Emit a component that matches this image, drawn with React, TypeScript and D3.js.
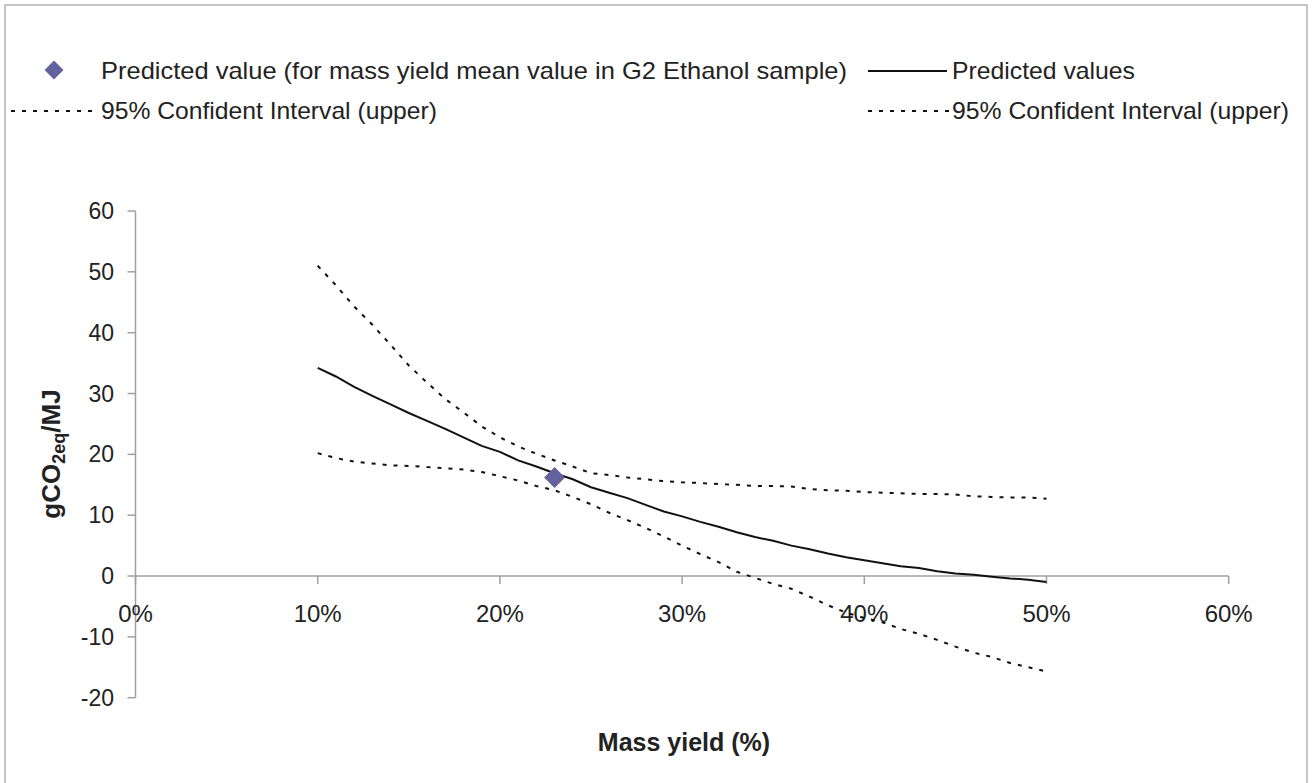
import React from "react";
import * as d3 from "d3";

// Mass yield (%) sampled along the curves
const massYield = [10, 11, 12, 13, 14, 15, 16, 17, 18, 19, 20, 21, 22, 23, 24, 25, 26, 27, 28, 29, 30, 31, 32, 33, 34, 35, 36, 37, 38, 39, 40, 41, 42, 43, 44, 45, 46, 47, 48, 49, 50];
const predictedValues = [34.2, 32.8, 31.1, 29.6, 28.2, 26.8, 25.5, 24.2, 22.8, 21.4, 20.4, 19.0, 18.0, 16.9, 15.9, 14.6, 13.7, 12.8, 11.7, 10.6, 9.8, 8.9, 8.1, 7.2, 6.4, 5.8, 5.0, 4.4, 3.7, 3.1, 2.6, 2.1, 1.6, 1.3, 0.8, 0.4, 0.2, -0.1, -0.4, -0.6, -1.0];
const upperCI = [51.0, 47.8, 44.3, 41.3, 38.0, 34.6, 31.8, 29.1, 26.9, 24.6, 22.8, 21.3, 20.1, 19.0, 18.0, 16.9, 16.6, 16.2, 15.9, 15.6, 15.4, 15.3, 15.1, 15.0, 14.8, 14.8, 14.7, 14.3, 14.1, 14.0, 13.8, 13.7, 13.6, 13.5, 13.5, 13.4, 13.1, 13.0, 12.9, 12.9, 12.7];
const lowerCI = [20.2, 19.4, 18.8, 18.5, 18.2, 18.1, 17.9, 17.7, 17.5, 17.1, 16.4, 15.7, 14.8, 14.1, 13.0, 11.8, 10.4, 9.2, 7.9, 6.5, 5.0, 3.6, 2.3, 0.7, -0.3, -1.3, -2.1, -3.4, -4.8, -6.0, -6.9, -7.6, -8.7, -9.5, -10.5, -11.6, -12.6, -13.3, -14.3, -15.0, -15.7];

// The single predicted point (mean mass yield in G2 Ethanol sample)
const pointX = [23];
const pointY = [16.2];

const xTicks = [0, 10, 20, 30, 40, 50, 60];
const yTicks = [-20, -10, 0, 10, 20, 30, 40, 50, 60];

const legendLabels = [
  "Predicted value (for mass yield mean value in G2 Ethanol sample)",
  "Predicted values",
  "95% Confident Interval (upper)",
  "95% Confident Interval (upper)",
];

const FONT = "'Liberation Sans', Arial, Helvetica, sans-serif";
const AXIS = "#a0a0a0";
const DIAMOND = "#62629e";

export default function App() {
  const x = d3.scaleLinear().domain([0, 60]).range([135.5, 1228.7]);
  const y = d3.scaleLinear().domain([-20, 60]).range([697.7, 211]);

  const mk = (vals: number[]) =>
    d3
      .line<number>()
      .x((_, i) => x(massYield[i]))
      .y((d) => y(d))(vals) || "";

  const diamond = (cx: number, cy: number, r: number) =>
    `M${cx},${cy - r}L${cx + r},${cy}L${cx},${cy + r}L${cx - r},${cy}Z`;

  const dash = "4,7";

  return (
    <svg
      width={1313}
      height={783}
      style={{ position: "absolute", left: 0, top: 0, background: "#fff" }}
      fontFamily={FONT}
    >
      <rect x={5} y={5} width={1302} height={800} fill="#fff" stroke="#a0a0a0" strokeWidth={1.2} />

      {/* Legend */}
      <path d={diamond(54, 70, 9.5)} fill={DIAMOND} />
      <text x={101} y={79} fontSize={24} fill="#222" textLength={746} lengthAdjust="spacingAndGlyphs">{legendLabels[0]}</text>
      <line x1={868} x2={947} y1={71} y2={71} stroke="#111" strokeWidth={2} />
      <text x={952} y={79} fontSize={24} fill="#222" textLength={183} lengthAdjust="spacingAndGlyphs">{legendLabels[1]}</text>
      <line x1={11} x2={92} y1={111} y2={111} stroke="#111" strokeWidth={2} strokeDasharray={dash} />
      <text x={101} y={119} fontSize={24} fill="#222" textLength={336} lengthAdjust="spacingAndGlyphs">{legendLabels[2]}</text>
      <line x1={868} x2={949} y1={111} y2={111} stroke="#111" strokeWidth={2} strokeDasharray={dash} />
      <text x={952} y={119} fontSize={24} fill="#222" textLength={337} lengthAdjust="spacingAndGlyphs">{legendLabels[3]}</text>

      {/* Y axis */}
      <line x1={x(0)} x2={x(0)} y1={y(60)} y2={y(-20)} stroke={AXIS} strokeWidth={1.5} />
      {yTicks.map((t) => (
        <g key={"y" + t}>
          <line x1={x(0) - 8} x2={x(0)} y1={y(t)} y2={y(t)} stroke={AXIS} strokeWidth={1.5} />
          <text x={114} y={y(t)} dy="0.35em" textAnchor="end" fontSize={23} fill="#222">{t}</text>
        </g>
      ))}

      {/* X axis at y = 0 */}
      <line x1={x(0)} x2={x(60)} y1={y(0)} y2={y(0)} stroke={AXIS} strokeWidth={1.5} />
      {xTicks.map((t) => (
        <g key={"x" + t}>
          <line x1={x(t)} x2={x(t)} y1={y(0)} y2={y(0) + 8} stroke={AXIS} strokeWidth={1.5} />
          <text x={x(t)} y={y(0) + 46} textAnchor="middle" fontSize={24} fill="#222">{t + "%"}</text>
        </g>
      ))}

      {/* Series */}
      <path d={mk(upperCI)} fill="none" stroke="#111" strokeWidth={2} strokeDasharray={dash} />
      <path d={mk(lowerCI)} fill="none" stroke="#111" strokeWidth={2} strokeDasharray={dash} />
      <path d={mk(predictedValues)} fill="none" stroke="#111" strokeWidth={2} />
      {pointX.map((px, i) => (
        <path key={"p" + i} d={diamond(x(px), y(pointY[i]), 10.5)} fill={DIAMOND} />
      ))}

      {/* Axis titles */}
      <text x={684} y={751} textAnchor="middle" fontSize={25} fontWeight="bold" fill="#222">Mass yield (%)</text>
      <text transform="translate(60,454) rotate(-90)" textAnchor="middle" fontSize={26} fontWeight="bold" fill="#222">
        gCO<tspan fontSize={18} dy={5}>2eq</tspan><tspan dy={-5}>/MJ</tspan>
      </text>
    </svg>
  );
}
